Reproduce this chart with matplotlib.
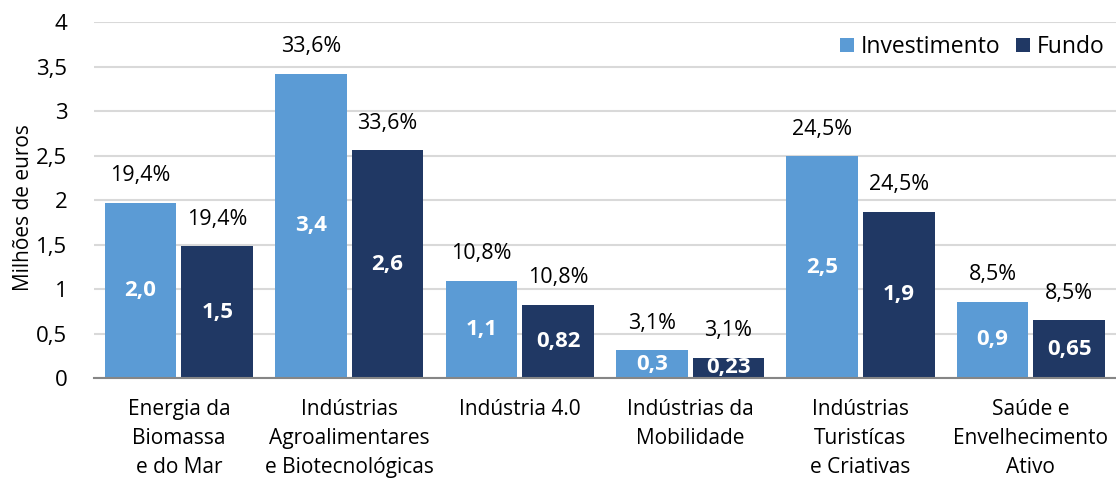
import numpy as np
import matplotlib.pyplot as plt

plt.rcParams['font.family'] = ['Open Sans', 'DejaVu Sans']

categorias = ["Energia da\nBiomassa\ne do Mar",
              "Indústrias\nAgroalimentares\ne Biotecnológicas",
              "Indústria 4.0",
              "Indústrias da\nMobilidade",
              "Indústrias\nTuristícas\ne Criativas",
              "Saúde e\nEnvelhecimento\nAtivo"]
investimento = [1.97, 3.42, 1.09, 0.31, 2.49, 0.86]
fundo = [1.48, 2.56, 0.82, 0.23, 1.87, 0.65]
rotulo_inv = ["2,0", "3,4", "1,1", "0,3", "2,5", "0,9"]
rotulo_fundo = ["1,5", "2,6", "0,82", "0,23", "1,9", "0,65"]
percentagens = ["19,4%", "33,6%", "10,8%", "3,1%", "24,5%", "8,5%"]
yticks = [0, 0.5, 1, 1.5, 2, 2.5, 3, 3.5, 4]
ytick_labels = ["0", "0,5", "1", "1,5", "2", "2,5", "3", "3,5", "4"]

cor_inv = '#5B9BD5'
cor_fundo = '#203864'

fig = plt.figure(figsize=(11.16, 4.78), dpi=100)
ax = fig.add_axes([0.084, 0.209, 0.916, 0.745])

x = np.arange(len(categorias))
w = 0.42
off = 0.225
b1 = ax.bar(x - off, investimento, w, color=cor_inv, label='Investimento', zorder=2)
b2 = ax.bar(x + off, fundo, w, color=cor_fundo, label='Fundo', zorder=2)

for bars, rot in [(b1, rotulo_inv), (b2, rotulo_fundo)]:
    for b, r, p in zip(bars, rot, percentagens):
        h = b.get_height()
        cx = b.get_x() + b.get_width() / 2
        ax.text(cx, h / 2, r, ha='center', va='center', color='white',
                fontsize=16, fontweight='bold', zorder=3, clip_on=True)
        ax.annotate(p, (cx, h), xytext=(0, 12), textcoords='offset points',
                    ha='center', va='bottom', fontsize=15.5, color='black')

ax.set_xlim(-0.5, 5.5)
ax.set_ylim(0, 4)
ax.set_yticks(yticks)
ax.set_yticklabels(ytick_labels, fontsize=16)
ax.set_xticks(x)
ax.set_xticklabels(categorias, fontsize=15, linespacing=1.5)
ax.tick_params(axis='both', length=0)
ax.tick_params(axis='y', pad=19)
ax.tick_params(axis='x', pad=15)
ax.set_ylabel("Milhões de euros", fontsize=15)
ax.yaxis.set_label_coords(-0.058, 0.48)

ax.grid(axis='y', color='#D9D9D9', linewidth=1.5, zorder=0)
ax.set_axisbelow(True)
for s in ['top', 'right', 'left']:
    ax.spines[s].set_visible(False)
ax.spines['bottom'].set_color('#868686')
ax.spines['bottom'].set_linewidth(1.5)

ax.legend(loc='upper right', bbox_to_anchor=(1.0, 0.995), frameon=False, fontsize=16.5,
          ncol=2, handlelength=0.6, handleheight=0.6, handletextpad=0.3,
          columnspacing=0.7, borderaxespad=0.1)

fig.savefig('out.png', dpi=100)
